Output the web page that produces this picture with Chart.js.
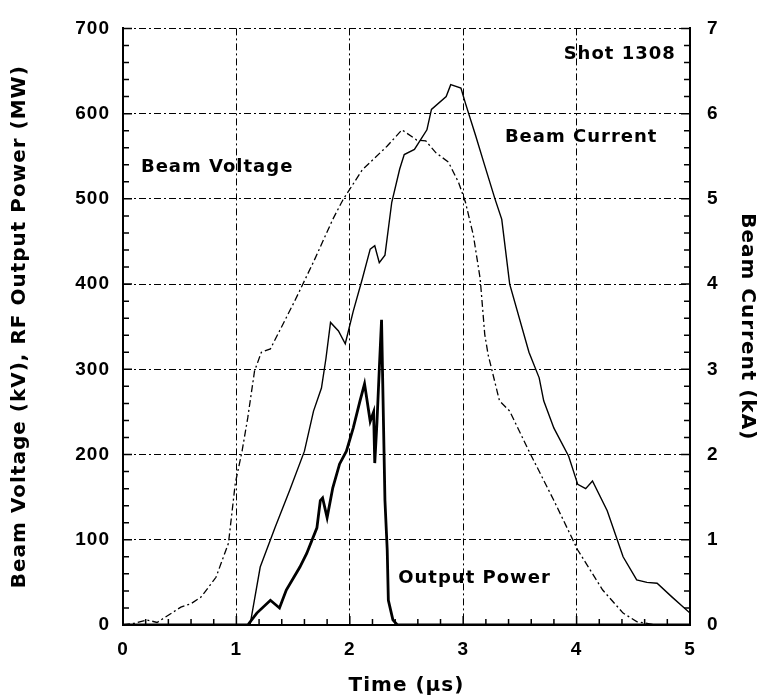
<!DOCTYPE html>
<html>
<head>
<meta charset="utf-8">
<script src="https://cdn.jsdelivr.net/npm/chart.js@4/dist/chart.umd.min.js"></script>
<style>
  body { margin: 0; background: #fff; }
  #wrap { width: 767px; height: 700px; }
</style>
</head>
<body>
<div id="wrap"><canvas id="chart"></canvas></div>
<script>
// Beam voltage (kV), dash-dot trace
const voltageT = [0, 0.1, 0.21, 0.3, 0.43, 0.51, 0.6, 0.69, 0.82, 0.93, 0.99, 1.05, 1.1, 1.16, 1.22, 1.3, 1.38, 1.51, 1.68, 1.85, 1.94, 2.11, 2.33, 2.46, 2.59, 2.67, 2.76, 2.87, 2.96, 3.02, 3.09, 3.15, 3.19, 3.22, 3.32, 3.41, 3.58, 3.8, 4.01, 4.23, 4.41, 4.53, 4.7, 5];
const voltageKV = [0, 2, 6, 3, 14, 21, 25, 33, 56, 96, 166, 204, 243, 298, 320, 324, 345, 379, 426, 476, 499, 534, 562, 581, 569, 568, 554, 543, 519, 496, 457, 406, 341, 317, 263, 251, 204, 146, 88, 41, 14, 4, 0, 0];

// Beam current (kA), thin solid trace, right axis
const currentT = [0, 1.0, 1.12, 1.21, 1.34, 1.47, 1.6, 1.68, 1.75, 1.79, 1.83, 1.9, 1.96, 2.03, 2.11, 2.18, 2.22, 2.26, 2.31, 2.37, 2.44, 2.48, 2.57, 2.68, 2.72, 2.85, 2.89, 2.98, 3.02, 3.11, 3.19, 3.28, 3.34, 3.41, 3.58, 3.67, 3.71, 3.8, 3.93, 4.01, 4.08, 4.14, 4.27, 4.41, 4.53, 4.62, 4.71, 4.84, 5];
const currentKA = [0, 0, 0, 0.68, 1.14, 1.58, 2.04, 2.51, 2.78, 3.13, 3.55, 3.45, 3.3, 3.68, 4.06, 4.41, 4.45, 4.25, 4.34, 4.96, 5.35, 5.52, 5.58, 5.81, 6.05, 6.2, 6.34, 6.3, 6.12, 5.74, 5.39, 5.0, 4.76, 4.0, 3.2, 2.9, 2.63, 2.31, 1.98, 1.65, 1.6, 1.69, 1.34, 0.8, 0.53, 0.5, 0.49, 0.33, 0.14];

// RF output power (MW), thick trace
const powerT = [0, 1.1, 1.18, 1.3, 1.38, 1.44, 1.56, 1.62, 1.71, 1.74, 1.76, 1.8, 1.85, 1.91, 1.97, 2.03, 2.09, 2.13, 2.18, 2.21, 2.22, 2.24, 2.26, 2.28, 2.31, 2.33, 2.34, 2.38, 2.42, 5];
const powerMW = [0, 0, 14, 29, 20, 41, 68, 84, 114, 146, 149, 126, 161, 189, 204, 231, 263, 283, 239, 250, 190, 239, 300, 358, 146, 88, 29, 6, 0, 0];

const xTicks = [0, 1, 2, 3, 4, 5];

const labels = [
  { text: 'Shot 1308', t: 4.38, v: 669 },
  { text: 'Beam Current', t: 4.04, v: 572 },
  { text: 'Beam Voltage', t: 0.83, v: 537 },
  { text: 'Output Power', t: 3.1, v: 55 }
];

function pts(xs, ys) {
  return xs.map((x, i) => ({ x: x, y: ys[i] }));
}

const dashDot = [7, 3, 2, 3];

// wider letter spacing, like the scanned lettering
const spacing = {
  id: 'spacing',
  beforeDraw(chart) { chart.ctx.letterSpacing = '1px'; },
  afterDraw(chart) { chart.ctx.letterSpacing = '0px'; }
};

// inward minor ticks on left, right and bottom axes
const minorTicks = {
  id: 'minorTicks',
  afterDatasetsDraw(chart) {
    const { ctx, chartArea: a, scales } = chart;
    ctx.save();
    ctx.setLineDash([]);
    ctx.strokeStyle = '#000';
    ctx.lineWidth = 1.5;
    ctx.beginPath();
    for (let v = 0; v <= 700; v += 20) {
      const y = scales.y.getPixelForValue(v);
      ctx.moveTo(a.left, y); ctx.lineTo(a.left + (v % 100 ? 6 : 9), y);
    }
    for (let v = 0; v <= 70; v += 2) {
      const y = scales.y1.getPixelForValue(v / 10);
      ctx.moveTo(a.right, y); ctx.lineTo(a.right - (v % 10 ? 6 : 9), y);
    }
    for (let v = 0; v <= 50; v += 2) {
      const x = scales.x.getPixelForValue(v / 10);
      ctx.moveTo(x, a.bottom); ctx.lineTo(x, a.bottom - (v % 10 ? 6 : 9));
    }
    ctx.stroke();
    ctx.restore();
  }
};

const textLabels = {
  id: 'textLabels',
  afterDatasetsDraw(chart) {
    const { ctx, scales } = chart;
    ctx.save();
    ctx.fillStyle = '#000';
    ctx.font = 'bold 18px "DejaVu Sans", sans-serif';
    ctx.textAlign = 'center';
    ctx.textBaseline = 'middle';
    labels.forEach(l => {
      ctx.fillText(l.text, scales.x.getPixelForValue(l.t), scales.y.getPixelForValue(l.v));
    });
    ctx.restore();
  }
};

const tickFont = { family: '"Liberation Sans Narrow", "Liberation Sans", Arial, sans-serif', size: 19, weight: 'bold' };
const titleFont = { family: '"DejaVu Sans", sans-serif', size: 20, weight: 'bold' };

new Chart(document.getElementById('chart'), {
  type: 'line',
  data: {
    datasets: [
      {
        label: 'Beam Voltage',
        data: pts(voltageT, voltageKV),
        yAxisID: 'y',
        borderColor: '#000',
        borderWidth: 1.3,
        borderDash: dashDot,
        pointRadius: 0,
        tension: 0
      },
      {
        label: 'Beam Current',
        data: pts(currentT, currentKA),
        yAxisID: 'y1',
        borderColor: '#000',
        borderWidth: 1.4,
        pointRadius: 0,
        tension: 0
      },
      {
        label: 'Output Power',
        data: pts(powerT, powerMW),
        yAxisID: 'y',
        borderColor: '#000',
        borderWidth: 2.8,
        pointRadius: 0,
        tension: 0
      }
    ]
  },
  options: {
    responsive: true,
    maintainAspectRatio: false,
    animation: false,
    layout: { padding: { top: 25, left: 0, right: 0, bottom: 0 } },
    plugins: { legend: { display: false }, tooltip: { enabled: false } },
    scales: {
      x: {
        type: 'linear',
        min: 0, max: 5,
        afterBuildTicks: s => { s.ticks = xTicks.map(v => ({ value: v })); },
        afterFit: s => { s.height = 75; },
        ticks: { color: '#000', font: tickFont, padding: 13 },
        grid: { color: '#000', lineWidth: 1, drawTicks: false },
        border: { color: '#000', width: 2, dash: dashDot },
        title: { display: true, text: 'Time (\u00b5s)', color: '#000', font: titleFont, padding: { bottom: 2 } }
      },
      y: {
        min: 0, max: 700,
        afterFit: s => { s.width = 123; },
        ticks: { stepSize: 100, color: '#000', font: tickFont, padding: 13 },
        grid: { color: '#000', lineWidth: 1, drawTicks: false },
        border: { color: '#000', width: 2, dash: dashDot },
        title: { display: true, text: 'Beam Voltage (kV), RF Output Power (MW)', color: '#000', font: titleFont, padding: { top: 8 } }
      },
      y1: {
        position: 'right',
        min: 0, max: 7,
        afterFit: s => { s.width = 77; },
        ticks: { stepSize: 1, color: '#000', font: tickFont, padding: 17 },
        grid: { display: false, drawTicks: false },
        border: { color: '#000', width: 2 },
        title: { display: true, text: 'Beam Current (kA)', color: '#000', font: titleFont, padding: { top: 8 } }
      }
    }
  },
  plugins: [spacing, minorTicks, textLabels]
});
</script>
</body>
</html>
